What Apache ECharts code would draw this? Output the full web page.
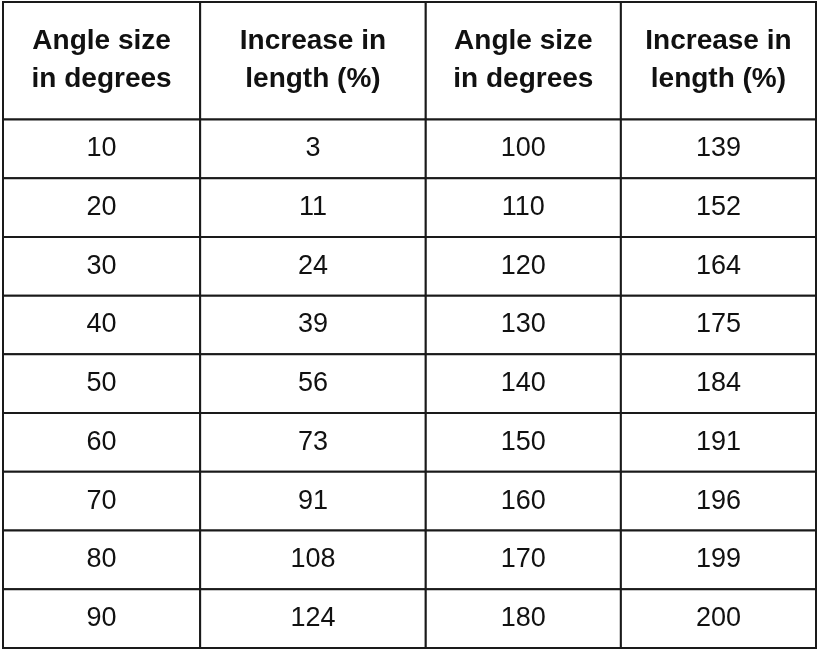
<!DOCTYPE html>
<html>
<head>
<meta charset="utf-8">
<script src="https://cdn.jsdelivr.net/npm/echarts@6/dist/echarts.min.js"></script>
<style>
  html, body { margin: 0; padding: 0; background: #fff; }
  #chart { width: 819px; height: 651px; }
</style>
</head>
<body>
<div id="chart"></div>
<script>
const headers = ['Angle size\nin degrees', 'Increase in\nlength (%)', 'Angle size\nin degrees', 'Increase in\nlength (%)']
const anglesLeft = [10, 20, 30, 40, 50, 60, 70, 80, 90]
const increaseLeft = [3, 11, 24, 39, 56, 73, 91, 108, 124]
const anglesRight = [100, 110, 120, 130, 140, 150, 160, 170, 180]
const increaseRight = [139, 152, 164, 175, 184, 191, 196, 199, 200]

// column edges in axis units (widths differ a little, like the original)
const colEdges = [0, 0.97, 2.08, 3.04, 4]

const cells = []
headers.forEach((h, c) => cells.push([c, 0, h, 1]))
const cols = [anglesLeft, increaseLeft, anglesRight, increaseRight]
cols.forEach((col, c) => {
  col.forEach((v, r) => cells.push([c, r + 1, String(v), 0]))
})

const chart = echarts.init(document.getElementById('chart'))

chart.setOption({
  animation: false,
  grid: { left: 3, right: 3, top: 2, bottom: 3 },
  xAxis: { type: 'value', min: 0, max: 4, show: false },
  yAxis: { type: 'value', min: 0, max: 11, inverse: true, show: false },
  series: [{
    type: 'custom',
    data: cells,
    renderItem: (params, api) => {
      const c = api.value(0)
      const r = api.value(1)
      const isHead = api.value(3) === 1
      const y0 = r === 0 ? 0 : r + 1
      const y1 = r === 0 ? 2 : r + 2
      const p0 = api.coord([colEdges[c], y0])
      const p1 = api.coord([colEdges[c + 1], y1])
      const text = cells[params.dataIndex][2]
      return {
        type: 'group',
        children: [
          {
            type: 'rect',
            shape: { x: p0[0], y: p0[1], width: p1[0] - p0[0], height: p1[1] - p0[1] },
            style: { fill: '#fff', stroke: '#1a1a1a', lineWidth: 2 }
          },
          {
            type: 'text',
            x: (p0[0] + p1[0]) / 2,
            y: (p0[1] + p1[1]) / 2,
            style: {
              text: text,
              fill: '#111',
              align: 'center',
              verticalAlign: 'middle',
              fontFamily: 'Liberation Sans, Arial, sans-serif',
              fontWeight: isHead ? 'bold' : 'normal',
              fontSize: isHead ? 28 : 27,
              lineHeight: isHead ? 38 : 30
            }
          }
        ]
      }
    }
  }]
})
</script>
</body>
</html>
